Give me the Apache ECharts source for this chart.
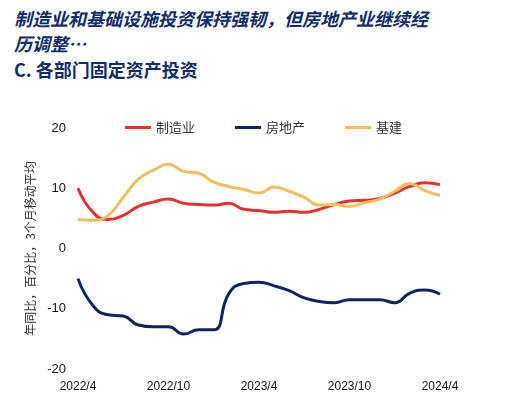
<!DOCTYPE html><html><head><meta charset="utf-8"><script src="https://cdn.jsdelivr.net/npm/echarts@6/dist/echarts.min.js"></script>
<style>body{margin:0}#t{position:absolute;left:14px;top:6px;font-family:"Noto Sans CJK SC";color:#0f2d69;font-weight:bold}</style></head><body>
<div id="t"><div style="font-style:italic;font-size:18px;line-height:25px">制造业和基础设施投资保持强韧，但房地产业继续经<br>历调整…</div><div style="font-size:18px;line-height:26px">C. 各部门固定资产投资</div></div>
<div id="c" style="width:506px;height:407px"></div>
<script>
const months=[];for(let i=0;i<25;i++){const m=(3+i)%12+1,y=2022+Math.floor((3+i)/12);months.push(y+'/'+m);}
const xLabels=['2022/4','2022/10','2023/4','2023/10','2024/4'];
const manufacturing=[10,6,4.8,5.5,7,7.7,8.2,7.5,7.3,7.2,7.5,6.5,6.3,6,6.2,6,6.5,7.3,7.9,8,8.3,9.2,10.3,10.9,10.6];
const realEstate=[-5,-9.5,-11,-11.2,-12.7,-13,-13,-14.2,-13.5,-13.5,-7.5,-5.8,-5.6,-6.2,-7,-8.2,-8.8,-9,-8.5,-8.5,-8.5,-9,-7.4,-6.9,-7.6];
const infra=[4.8,4.7,5.5,8.5,11.5,13,14,12.8,12.5,11,10.3,9.8,9.2,10.2,9.5,8.5,7.2,7.3,7,7.6,8.2,9.5,10.8,9.6,8.8];
const f='"Noto Sans CJK SC"';
echarts.init(document.getElementById('c')).setOption({
grid:{left:78,right:66,top:128,bottom:38},
legend:{top:116,left:120,itemGap:40,icon:'rect',itemWidth:26,itemHeight:3,textStyle:{fontFamily:f,fontSize:13,color:'#333'}},
xAxis:{type:'category',boundaryGap:false,data:months,axisLine:{show:false},axisTick:{show:false},
 axisLabel:{interval:0,fontSize:12,color:'#111',margin:12,formatter:v=>xLabels.includes(v)?v:''}},
yAxis:{min:-20,max:20,interval:10,splitLine:{show:false},axisLabel:{fontSize:13,color:'#111',margin:12},
 name:'年同比，百分比，3个月移动平均',nameLocation:'middle',nameGap:40,nameTextStyle:{fontFamily:f,fontSize:12,color:'#333'}},
series:[
{name:'制造业',type:'line',smooth:true,symbol:'none',data:manufacturing,lineStyle:{width:3,color:'#e3312d'},itemStyle:{color:'#e3312d'}},
{name:'房地产',type:'line',smooth:true,symbol:'none',data:realEstate,lineStyle:{width:3,color:'#0f2561'},itemStyle:{color:'#0f2561'}},
{name:'基建',type:'line',smooth:true,symbol:'none',data:infra,lineStyle:{width:3,color:'#f2bd5e'},itemStyle:{color:'#f2bd5e'}}]
});
</script></body></html>
